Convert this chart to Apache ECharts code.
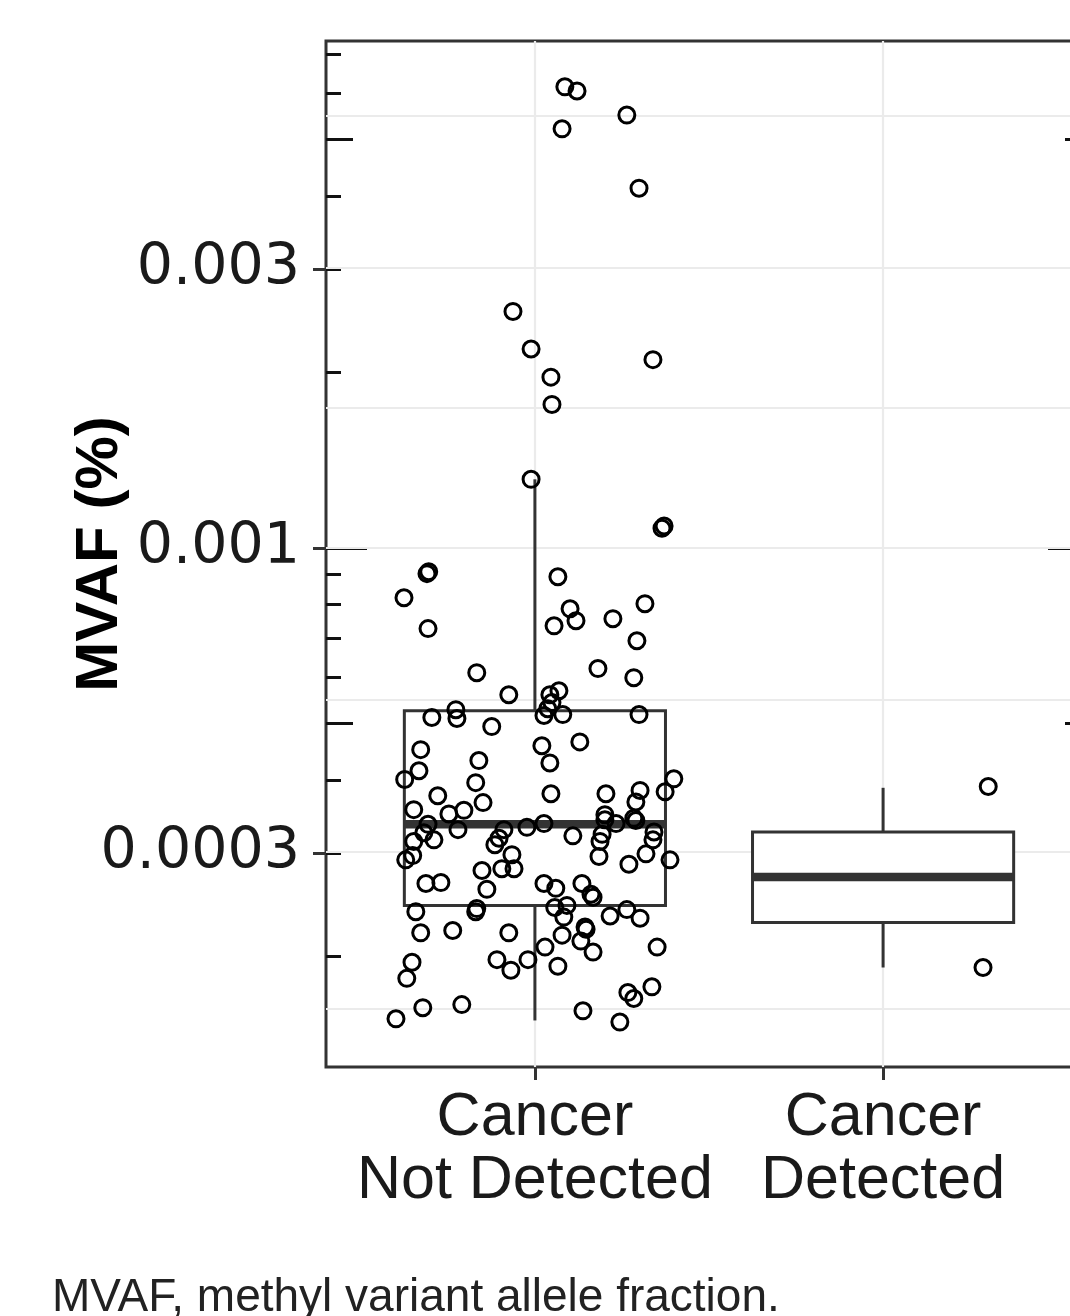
<!DOCTYPE html>
<html>
<head>
<meta charset="utf-8">
<script src="https://cdn.jsdelivr.net/npm/echarts@6/dist/echarts.min.js"></script>
<style>
  html, body { margin: 0; padding: 0; background: #fff; }
  #chart { width: 1070px; height: 1316px; }
</style>
</head>
<body>
<div id="chart"></div>
<script>
// MVAF boxplot with jittered points, log scale y
var categories = ['Cancer\nNot Detected', 'Cancer\nDetected'];

// whisker low, Q1, median, Q3, whisker high
var boxNotDetected = [0.000155, 0.000244, 0.000336, 0.000526, 0.00131];
var boxDetected = [0.000191, 0.000228, 0.000273, 0.000326, 0.000388];

var notDetectedValues = [
  0.00616, 0.00606, 0.00551, 0.00522, 0.00413, 0.00254, 0.00219, 0.00210, 0.00196, 0.00176,
  0.00131, 0.00108, 0.00109, 0.000910, 0.000903, 0.000892, 0.000821, 0.000802, 0.000786, 0.000750,
  0.000735, 0.000756, 0.000727, 0.000693, 0.000621, 0.000611, 0.000599, 0.000560, 0.000560, 0.000569,
  0.000543, 0.000530, 0.000516, 0.000518, 0.000518, 0.000528, 0.000510, 0.000512, 0.000494, 0.000458,
  0.000465, 0.000428, 0.000451, 0.000432, 0.000415, 0.000401, 0.000396, 0.000402, 0.000379, 0.000379,
  0.000384, 0.000367, 0.000382, 0.000376, 0.000356, 0.000350, 0.000355, 0.000366, 0.000349, 0.000342,
  0.000337, 0.000344, 0.000341, 0.000336, 0.000325, 0.000314, 0.000316, 0.000329, 0.000329, 0.000318,
  0.000310, 0.000332, 0.000337, 0.000321, 0.000323, 0.000314, 0.000326, 0.000316, 0.000297, 0.000292,
  0.000298, 0.000282, 0.000282, 0.000280, 0.000296, 0.000287, 0.000299, 0.000292, 0.000266, 0.000266,
  0.000266, 0.000267, 0.000260, 0.000261, 0.000255, 0.000252, 0.000238, 0.000241, 0.000238, 0.000242,
  0.000244, 0.000233, 0.000234, 0.000240, 0.000232, 0.000219, 0.000221, 0.000219, 0.000217, 0.000224,
  0.000222, 0.000212, 0.000203, 0.000207, 0.000207, 0.000195, 0.000183, 0.000197, 0.000189, 0.000197,
  0.000192, 0.000163, 0.000165, 0.000156, 0.000161, 0.000154, 0.000173, 0.000169, 0.000177
];
var notDetectedJitter = [
  0.086, 0.121, 0.264, 0.078, 0.299, -0.063, -0.011, 0.339, 0.046, 0.049,
  -0.011, 0.365, 0.371, -0.305, -0.310, 0.066, -0.376, 0.316, 0.101, 0.118,
  0.055, 0.224, -0.307, 0.293, 0.181, -0.167, 0.284, -0.075, 0.043, 0.069,
  0.049, 0.037, 0.026, 0.080, 0.299, -0.227, -0.224, -0.296, -0.124, 0.020,
  0.129, 0.043, -0.328, -0.161, -0.333, -0.374, -0.170, 0.399, 0.046, 0.204,
  0.302, 0.290, 0.374, -0.279, -0.348, -0.247, -0.204, -0.149, 0.201, 0.201,
  0.233, 0.284, 0.290, -0.307, -0.319, -0.348, -0.290, -0.221, -0.089, -0.103,
  -0.115, -0.023, 0.026, 0.109, 0.193, 0.187, 0.342, 0.339, -0.351, -0.371,
  -0.066, -0.095, -0.060, -0.152, 0.184, 0.270, 0.319, 0.388, 0.026, 0.135,
  -0.313, -0.270, -0.138, 0.060, 0.161, 0.167, -0.342, -0.167, -0.170, 0.057,
  0.092, 0.083, 0.216, 0.264, 0.302, -0.328, -0.236, -0.075, 0.078, 0.144,
  0.147, 0.132, 0.167, 0.029, 0.351, -0.353, -0.368, -0.109, -0.069, -0.020,
  0.066, -0.322, -0.210, -0.399, 0.138, 0.244, 0.267, 0.284, 0.336
];
var detectedValues = [0.000390, 0.000191];
var detectedJitter = [0.302, 0.287];

var tickValues = [0.0003, 0.001, 0.003];
var tickLabels = ['0.0003', '0.001', '0.003'];
var logTicksShort = [0.0002, 0.0003, 0.0004, 0.0006, 0.0007, 0.0008, 0.0009, 0.002, 0.003, 0.004, 0.006, 0.007];
var logTicksMid = [0.0005, 0.005];
var logTicksLong = [0.001];
var minorGrid = [0.000164, 0.000548, 0.00173, 0.00548];
var yMin = 0.000129, yMax = 0.00738;

var lg = function (v) { return Math.log10(v); };

var chart = echarts.init(document.getElementById('chart'));

function tickAxis(pos, vals, len) {
    return {
        type: 'value',
        position: pos,
        min: lg(yMin),
        max: lg(yMax),
        axisLine: { show: false, onZero: false },
        axisLabel: { show: false },
        splitLine: { show: false },
        axisTick: {
            show: true,
            inside: true,
            length: len,
            customValues: vals.map(lg),
            lineStyle: { color: '#111', width: 3 }
        }
    };
}

var points = [];
notDetectedValues.forEach(function (v, i) { points.push([0 + notDetectedJitter[i], lg(v)]); });
detectedValues.forEach(function (v, i) { points.push([1 + detectedJitter[i], lg(v)]); });

var gridLines = [];
tickValues.forEach(function (v) { gridLines.push({ yAxis: lg(v) }); });
minorGrid.forEach(function (v) { gridLines.push({ yAxis: lg(v), lineStyle: { width: 1.8 } }); });
gridLines.push({ xAxis: 0 }, { xAxis: 1 });

var option = {
    animation: false,
    backgroundColor: '#fff',
    grid: {
        left: 326, top: 41, width: 766, height: 1026,
        show: true, borderColor: '#333', borderWidth: 3,
        outerBoundsMode: 'none'
    },
    xAxis: {
        type: 'value',
        min: -0.6,
        max: 1.6,
        axisLine: { show: false, onZero: false },
        splitLine: { show: false },
        axisTick: {
            show: true, length: 13, customValues: [0, 1],
            lineStyle: { color: '#333', width: 3 }
        },
        axisLabel: {
            customValues: [0, 1],
            formatter: function (v) { return categories[Math.round(v)]; },
            fontFamily: 'Liberation Sans',
            fontSize: 61,
            lineHeight: 63,
            color: '#1a1a1a',
            margin: 20
        }
    },
    yAxis: [
        {
            type: 'value',
            min: lg(yMin),
            max: lg(yMax),
            name: 'MVAF (%)',
            nameLocation: 'middle',
            nameRotate: 90,
            nameGap: 196,
            nameMoveOverlap: false,
            nameTextStyle: {
                fontFamily: 'Liberation Sans', fontWeight: 'bold', fontSize: 60, color: '#000'
            },
            axisLine: { show: false, onZero: false },
            splitLine: { show: false },
            axisTick: {
                show: true, length: 13, customValues: tickValues.map(lg),
                lineStyle: { color: '#333', width: 3 }
            },
            axisLabel: {
                customValues: tickValues.map(lg),
                formatter: function (v) {
                    for (var i = 0; i < tickValues.length; i++) {
                        if (Math.abs(v - lg(tickValues[i])) < 1e-6) return tickLabels[i];
                    }
                    return '';
                },
                fontFamily: 'DejaVu Sans',
                fontSize: 57,
                color: '#1a1a1a',
                margin: 26
            }
        },
        tickAxis('left', logTicksShort, 15),
        tickAxis('left', logTicksMid, 27),
        tickAxis('left', logTicksLong, 41),
        tickAxis('right', logTicksMid, 27),
        tickAxis('right', logTicksLong, 44)
    ],
    series: [
        {
            type: 'custom',
            z: 2,
            data: [[0].concat(boxNotDetected.map(lg)), [1].concat(boxDetected.map(lg))],
            encode: { x: 0, y: [1, 2, 3, 4, 5] },
            renderItem: function (params, api) {
                var x = api.value(0);
                var half = api.size([0.75, 0])[0] / 2;
                var lo = api.coord([x, api.value(1)]);
                var q1 = api.coord([x, api.value(2)]);
                var md = api.coord([x, api.value(3)]);
                var q3 = api.coord([x, api.value(4)]);
                var hi = api.coord([x, api.value(5)]);
                return {
                    type: 'group',
                    children: [
                        { type: 'line', shape: { x1: hi[0], y1: hi[1], x2: q3[0], y2: q3[1] }, style: { stroke: '#333', lineWidth: 3 } },
                        { type: 'line', shape: { x1: q1[0], y1: q1[1], x2: lo[0], y2: lo[1] }, style: { stroke: '#333', lineWidth: 3 } },
                        { type: 'rect', shape: { x: q3[0] - half, y: q3[1], width: half * 2, height: q1[1] - q3[1] }, style: { fill: '#fff', stroke: '#333', lineWidth: 3 } },
                        { type: 'line', shape: { x1: md[0] - half, y1: md[1], x2: md[0] + half, y2: md[1] }, style: { stroke: '#333', lineWidth: 8.5 } }
                    ]
                };
            }
        },
        {
            type: 'scatter',
            z: 3,
            symbol: 'circle',
            symbolSize: 16,
            itemStyle: { color: 'rgba(0,0,0,0)', borderColor: '#000', borderWidth: 3, opacity: 1 },
            data: points,
            markLine: {
                silent: true,
                z: 1,
                symbol: ['none', 'none'],
                label: { show: false },
                lineStyle: { color: '#ebebeb', width: 2.2, type: 'solid' },
                data: gridLines
            }
        }
    ],
    graphic: [
        {
            type: 'text',
            left: 52,
            top: 1275,
            style: {
                text: 'MVAF, methyl variant allele fraction.',
                font: '46px "Liberation Sans"',
                fill: '#222'
            }
        }
    ]
};

chart.setOption(option);
</script>
</body>
</html>
